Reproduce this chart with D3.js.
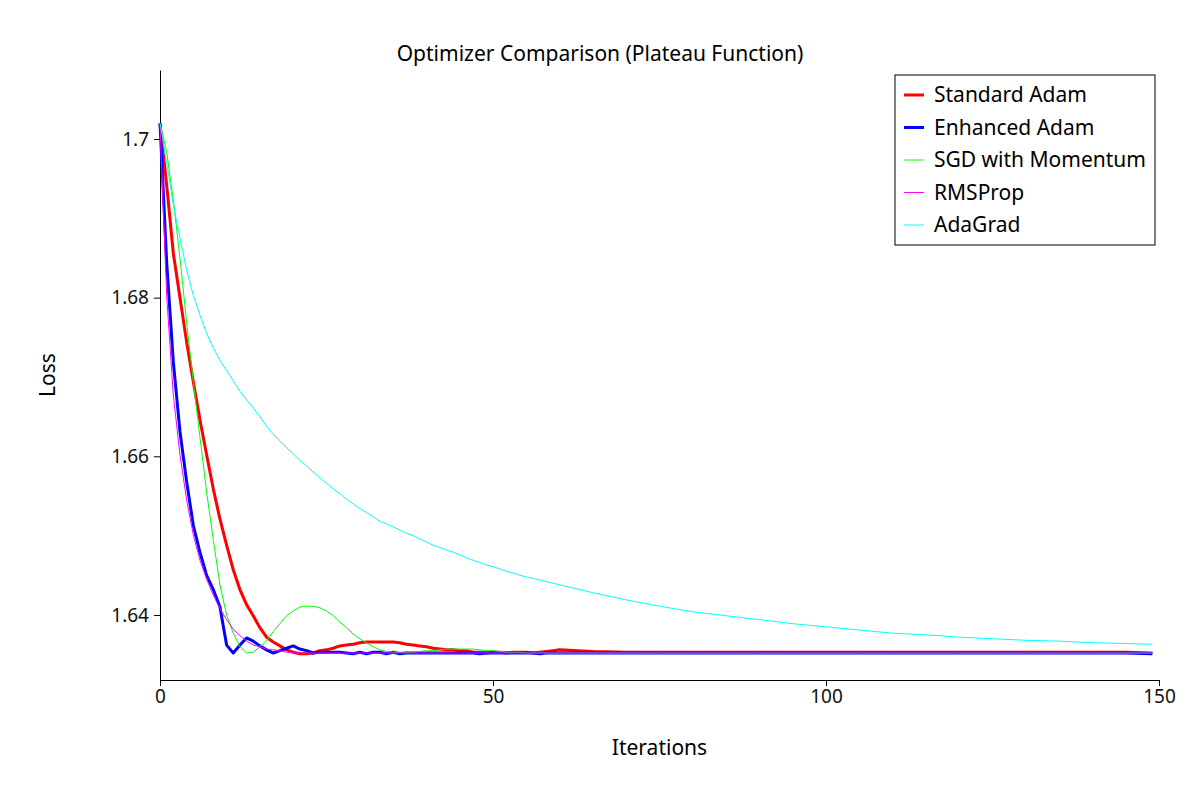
<!DOCTYPE html>
<html>
<head>
<meta charset="utf-8">
<script src="https://cdn.jsdelivr.net/npm/d3@7"></script>
<style>
  body { margin: 0; background: #fff; }
  svg { font-family: "Noto Sans", "DejaVu Sans", sans-serif; }
  .axis text { font-family: "Noto Sans", sans-serif; font-size: 19px; fill: #111; }
  .axis path, .axis line { stroke: #000; }
</style>
</head>
<body>
<div id="chart"></div>
<script>

//iterations sampled, every step up to 60 then every 5
const iters = d3.range(0, 61).concat([65,70,75,80,85,90,95,100,105,110,115,120,125,130,135,140,145,149])

const standardAdam = [
  1.7020, 1.6942, 1.6856, 1.6800, 1.6744, 1.6694, 1.6646, 1.6602, 1.6559, 1.6521,
  1.6488, 1.6457, 1.6432, 1.6413, 1.6399, 1.6384, 1.6372, 1.6366, 1.6361, 1.6356,
  1.6353, 1.6351, 1.6351, 1.6352, 1.6355, 1.6356, 1.6358, 1.6361, 1.6362, 1.6363,
  1.6365, 1.6366, 1.6366, 1.6366, 1.6366, 1.6366, 1.6365, 1.6363, 1.6362, 1.6361,
  1.6360, 1.6358, 1.6357, 1.6356, 1.6356, 1.6355, 1.6355, 1.6353, 1.6353, 1.6352,
  1.6353, 1.6353, 1.6352, 1.6353, 1.6353, 1.6353, 1.6352, 1.6353, 1.6354, 1.6355,
  1.6356,
  1.6354, 1.6353, 1.6353, 1.6353, 1.6353, 1.6353, 1.6353, 1.6353, 1.6353, 1.6353,
  1.6353, 1.6353, 1.6353, 1.6353, 1.6353, 1.6353, 1.6353, 1.6352
]

const enhancedAdam = [
  1.7020, 1.6845, 1.6719, 1.6631, 1.6568, 1.6513, 1.6479, 1.6450, 1.6432, 1.6410,
  1.6362, 1.6352, 1.6362, 1.6371, 1.6367, 1.6361, 1.6356, 1.6352, 1.6355, 1.6358,
  1.6361, 1.6357, 1.6355, 1.6352, 1.6353, 1.6353, 1.6353, 1.6353, 1.6352, 1.6351,
  1.6353, 1.6351, 1.6353, 1.6353, 1.6351, 1.6353, 1.6351, 1.6352, 1.6352, 1.6352,
  1.6352, 1.6352, 1.6352, 1.6352, 1.6352, 1.6352, 1.6352, 1.6352, 1.6351, 1.6352,
  1.6352, 1.6352, 1.6352, 1.6352, 1.6352, 1.6352, 1.6352, 1.6351, 1.6352, 1.6352,
  1.6352,
  1.6352, 1.6352, 1.6352, 1.6352, 1.6352, 1.6352, 1.6352, 1.6352, 1.6352, 1.6352,
  1.6352, 1.6352, 1.6352, 1.6352, 1.6352, 1.6352, 1.6352, 1.6351
]

const sgdMomentum = [
  1.7020, 1.6984, 1.6923, 1.6850, 1.6769, 1.6694, 1.6624, 1.6555, 1.6495, 1.6438,
  1.6400, 1.6377, 1.6360, 1.6352, 1.6353, 1.6360, 1.6367, 1.6379, 1.6389, 1.6399,
  1.6405, 1.6410, 1.6411, 1.6411, 1.6409, 1.6405, 1.6399, 1.6391, 1.6384, 1.6376,
  1.6370, 1.6365, 1.6360, 1.6356, 1.6354, 1.6353, 1.6353, 1.6353, 1.6353, 1.6354,
  1.6355, 1.6355, 1.6356, 1.6357, 1.6357, 1.6357, 1.6357, 1.6357, 1.6356, 1.6355,
  1.6355, 1.6354, 1.6353, 1.6353, 1.6353, 1.6352, 1.6352, 1.6352, 1.6352, 1.6352,
  1.6352,
  1.6352, 1.6352, 1.6352, 1.6352, 1.6352, 1.6352, 1.6352, 1.6352, 1.6352, 1.6352,
  1.6352, 1.6352, 1.6352, 1.6352, 1.6352, 1.6352, 1.6352, 1.6352
]

const rmsProp = [
  1.7020, 1.6803, 1.6677, 1.6602, 1.6545, 1.6501, 1.6469, 1.6445, 1.6425, 1.6408,
  1.6394, 1.6382, 1.6374, 1.6367, 1.6362, 1.6360, 1.6357, 1.6356, 1.6355, 1.6353,
  1.6353, 1.6352, 1.6352, 1.6352, 1.6352, 1.6352, 1.6352, 1.6352, 1.6352, 1.6352,
  1.6352, 1.6352, 1.6352, 1.6352, 1.6352, 1.6352, 1.6352, 1.6352, 1.6352, 1.6352,
  1.6352, 1.6352, 1.6352, 1.6352, 1.6352, 1.6352, 1.6352, 1.6352, 1.6352, 1.6352,
  1.6352, 1.6352, 1.6352, 1.6352, 1.6352, 1.6352, 1.6352, 1.6352, 1.6352, 1.6352,
  1.6352,
  1.6352, 1.6352, 1.6352, 1.6352, 1.6352, 1.6352, 1.6352, 1.6352, 1.6352, 1.6352,
  1.6352, 1.6352, 1.6352, 1.6352, 1.6352, 1.6352, 1.6352, 1.6352
]

const adaGrad = [
  1.7020, 1.6970, 1.6917, 1.6875, 1.6835, 1.6803, 1.6778, 1.6755, 1.6737, 1.6721,
  1.6708, 1.6695, 1.6682, 1.6671, 1.6661, 1.6650, 1.6638, 1.6628, 1.6619, 1.6611,
  1.6603, 1.6595, 1.6588, 1.6580, 1.6573, 1.6566, 1.6559, 1.6553, 1.6546, 1.6540,
  1.6534, 1.6529, 1.6524, 1.6518, 1.6515, 1.6511, 1.6507, 1.6503, 1.6500, 1.6496,
  1.6492, 1.6488, 1.6485, 1.6482, 1.6479, 1.6476, 1.6472, 1.6469, 1.6466, 1.6463,
  1.6461, 1.6458, 1.6455, 1.6453, 1.6450, 1.6448, 1.6446, 1.6444, 1.6442, 1.6440,
  1.6438,
  1.6428, 1.6419, 1.6411, 1.6404, 1.6399, 1.6394, 1.6389, 1.6385, 1.6381, 1.6377,
  1.6375, 1.6372, 1.6370, 1.6368, 1.6367, 1.6365, 1.6364, 1.6363
]

const seriesNames = ['Standard Adam', 'Enhanced Adam', 'SGD with Momentum', 'RMSProp', 'AdaGrad']
const seriesValues = [standardAdam, enhancedAdam, sgdMomentum, rmsProp, adaGrad]
const seriesColors = ['#ff0000', '#0000ff', '#00ff00', '#ff00ff', '#00ffff']
const seriesWidths = [3, 3, 1, 1, 1]

const xTicks = [0, 50, 100, 150]
const yTicks = [1.64, 1.66, 1.68, 1.70]
const yTickLabels = ['1.64', '1.66', '1.68', '1.7']

//chart dims, plot area in page pixels
const dims = { left: 160, right: 1159, top: 70, bottom: 680 }

const svg = d3.select('#chart')
  .append('svg')
    .attr('width', 1200)
    .attr('height', 800)

const x = d3.scaleLinear().domain([0, 150]).range([dims.left, dims.right])
const y = d3.scaleLinear().domain([1.6318, 1.7087]).range([dims.bottom, dims.top])

//axes, left and bottom only
svg.append('g')
  .attr('class', 'axis')
  .attr('transform', 'translate(0,' + dims.bottom + ')')
  .call(d3.axisBottom(x).tickValues(xTicks).tickSizeOuter(0).tickPadding(4))

svg.append('g')
  .attr('class', 'axis')
  .attr('transform', 'translate(' + dims.left + ',0)')
  .call(d3.axisLeft(y).tickValues(yTicks).tickSizeOuter(0).tickPadding(5)
    .tickFormat((d, i) => yTickLabels[i]))

//lines, drawn in legend order
const line = d3.line()
  .x((d, i) => x(iters[i]))
  .y(d => y(d))

seriesValues.forEach(function (vals, k) {
  svg.append('path')
    .datum(vals)
    .attr('fill', 'none')
    .attr('stroke', seriesColors[k])
    .attr('stroke-width', seriesWidths[k])
    .attr('stroke-linejoin', 'round')
    .attr('d', line)
})

//titles
svg.append('text')
  .attr('x', 600)
  .attr('y', 61)
  .attr('text-anchor', 'middle')
  .style('font-size', '21px')
  .text('Optimizer Comparison (Plateau Function)')

svg.append('text')
  .attr('x', (dims.left + dims.right) / 2)
  .attr('y', 755)
  .attr('text-anchor', 'middle')
  .style('font-size', '21px')
  .text('Iterations')

svg.append('text')
  .attr('transform', 'translate(55,' + (dims.top + dims.bottom) / 2 + ') rotate(-90)')
  .attr('text-anchor', 'middle')
  .style('font-size', '21px')
  .text('Loss')

//legend box
const legend = svg.append('g').attr('transform', 'translate(895,75)')

legend.append('rect')
  .attr('width', 260)
  .attr('height', 170)
  .attr('fill', '#fff')
  .attr('stroke', '#000')
  .attr('stroke-width', 1)

seriesNames.forEach(function (name, k) {
  const ry = 20 + k * 32.5
  legend.append('line')
    .attr('x1', 9).attr('x2', 29)
    .attr('y1', ry).attr('y2', ry)
    .attr('stroke', seriesColors[k])
    .attr('stroke-width', seriesWidths[k])
  legend.append('text')
    .attr('x', 39)
    .attr('y', ry)
    .attr('dy', '0.35em')
    .style('font-size', '21px')
    .text(name)
})

</script>
</body>
</html>
